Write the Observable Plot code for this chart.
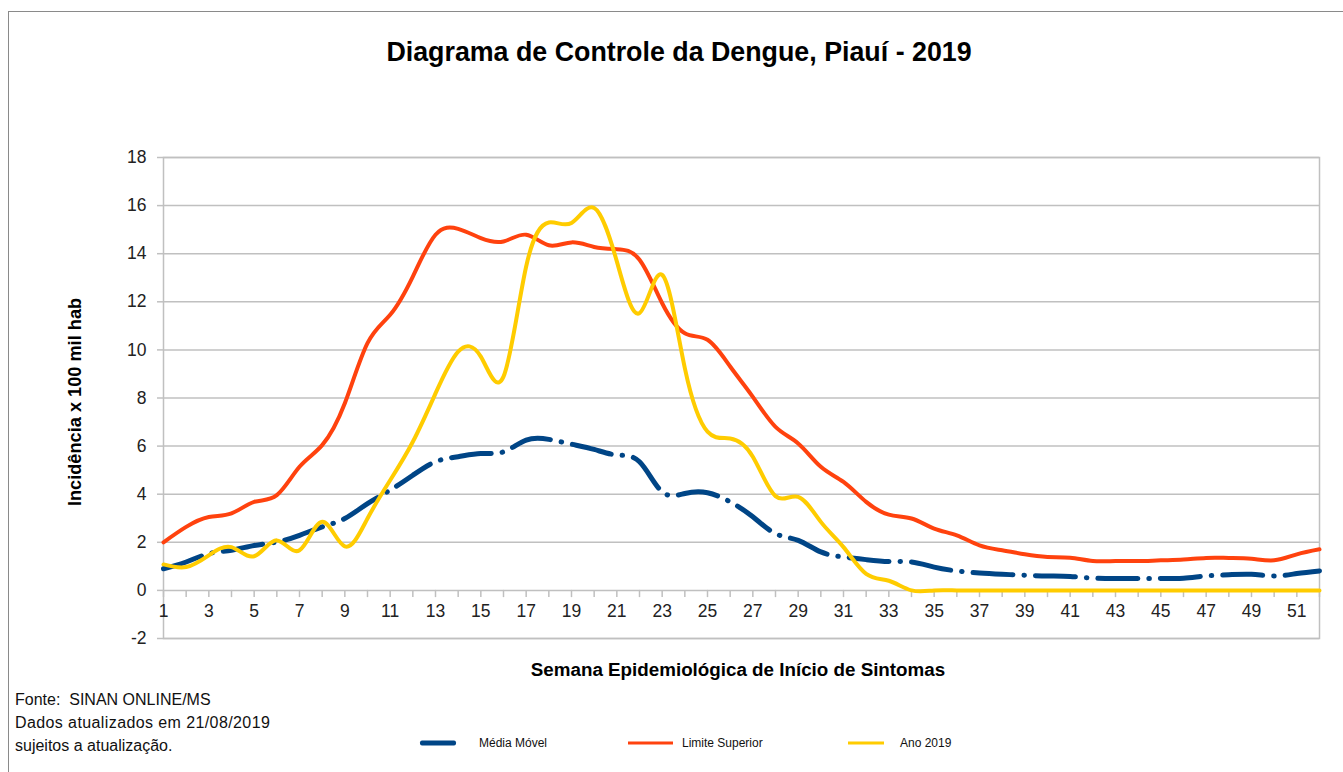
<!DOCTYPE html>
<html>
<head>
<meta charset="utf-8">
<script src="https://cdn.jsdelivr.net/npm/d3@7"></script>
<script src="https://cdn.jsdelivr.net/npm/@observablehq/plot@0.6"></script>
<style>
  html, body { margin: 0; padding: 0; background: #fff; }
  #wrap { position: relative; width: 1343px; height: 772px; overflow: hidden; font-family: "Liberation Sans", Arial, sans-serif; }
  #border { position: absolute; left: 8px; top: 11px; width: 1400px; height: 900px; border: 1px solid #8a8a8a; box-sizing: border-box; }
  #chart { position: absolute; left: 0; top: 0; }
  .t { position: absolute; line-height: 1; white-space: nowrap; color: #000; }
  #title { left: 679px; top: 52px; transform: translate(-50%, -50%); font-size: 26.8px; font-weight: bold; }
  #ylab { left: 75px; top: 402px; transform: translate(-50%, -50%) rotate(-90deg); font-size: 18.2px; font-weight: bold; }
  #xlab { left: 738px; top: 670px; transform: translate(-50%, -50%); font-size: 18.8px; font-weight: bold; }
  .foot { left: 15px; font-size: 16px; transform: translateY(-50%); color: #111; }
  .leg { font-size: 12px; transform: translateY(-50%); color: #111; }
  .sw { position: absolute; transform: translateY(-50%); }
</style>
</head>
<body>
<div id="wrap">
  <div id="border"></div>
  <div id="chart"></div>
  <div class="t" id="title">Diagrama de Controle da Dengue, Piauí - 2019</div>
  <div class="t" id="ylab">Incidência x 100 mil hab</div>
  <div class="t" id="xlab">Semana Epidemiológica de Início de Sintomas</div>
  <div class="t foot" style="top:700px">Fonte:&nbsp; SINAN ONLINE/MS</div>
  <div class="t foot" style="top:723px; letter-spacing:0.4px">Dados atualizados em 21/08/2019</div>
  <div class="t foot" style="top:746px">sujeitos a atualização.</div>
  <div class="sw" style="left:420px; top:743px; width:36px; height:5px; background:#004586; border-radius:2px;"></div>
  <div class="t leg" style="left:479px; top:743px">Média Móvel</div>
  <div class="sw" style="left:628px; top:743px; width:45px; height:3px; background:#ff420e;"></div>
  <div class="t leg" style="left:682px; top:743px">Limite Superior</div>
  <div class="sw" style="left:848px; top:743px; width:36px; height:3px; background:#ffcc00;"></div>
  <div class="t leg" style="left:900px; top:743px">Ano 2019</div>
</div>
<script>
const weeks = [1,2,3,4,5,6,7,8,9,10,11,12,13,14,15,16,17,18,19,20,21,22,23,24,25,26,27,28,29,30,31,32,33,34,35,36,37,38,39,40,41,42,43,44,45,46,47,48,49,50,51,52];
const xTickLabels = [1,3,5,7,9,11,13,15,17,19,21,23,25,27,29,31,33,35,37,39,41,43,45,47,49,51];
const yTicks = [-2,0,2,4,6,8,10,12,14,16,18];

const mediaMovel = [0.9,1.18,1.53,1.67,1.87,2.01,2.29,2.64,2.99,3.61,
  4.17,4.79,5.35,5.56,5.69,5.76,6.25,6.28,6.08,5.86,
  5.63,5.35,4.1,4.03,4.06,3.68,3.06,2.36,2.08,1.6,
  1.39,1.28,1.2,1.18,0.97,0.81,0.72,0.67,0.63,0.6,
  0.58,0.51,0.49,0.49,0.49,0.51,0.6,0.65,0.67,0.6,
  0.7,0.81];
const limiteSuperior = [2.0,2.64,3.05,3.2,3.68,3.96,5.14,6.04,7.78,10.28,
  11.46,13.05,14.79,15.03,14.65,14.51,14.79,14.35,14.47,14.28,
  14.19,13.75,11.94,10.69,10.42,9.31,8.05,6.8,6.11,5.14,
  4.51,3.68,3.15,2.99,2.57,2.29,1.87,1.67,1.5,1.39,
  1.36,1.22,1.22,1.22,1.25,1.28,1.35,1.35,1.32,1.25,
  1.5,1.71];
const ano2019 = [1.08,0.97,1.46,1.8,1.42,2.08,1.67,2.85,1.83,2.99,
  4.58,6.18,8.19,9.93,9.72,8.89,13.47,15.3,15.28,15.9,
  13.68,11.53,13.12,9.24,6.6,6.32,5.56,3.92,3.89,2.85,
  1.8,0.69,0.4,0,0,0,0,0,0,0,
  0,0,0,0,0,0,0,0,0,0,
  0,0];

const rows = weeks.map((w, i) => ({week: w, media: mediaMovel[i], limite: limiteSuperior[i], ano: ano2019[i]}));

const chart = Plot.plot({
  width: 1343,
  height: 772,
  marginTop: 157,
  marginBottom: 134,
  marginLeft: 163,
  marginRight: 24,
  style: {fontFamily: "'Liberation Sans', Arial, sans-serif", background: "transparent", overflow: "visible"},
  x: {domain: [1, 52], axis: null},
  y: {domain: [-2, 18], axis: null},
  marks: [
    Plot.gridY(yTicks, {stroke: "#c0c0c0", strokeOpacity: 1, strokeWidth: 1.5}),
    Plot.frame({stroke: "#c0c0c0", strokeWidth: 1.5}),
    Plot.axisY(yTicks, {tickSize: 6, tickPadding: 11, fontSize: 17.5, label: null, tickFormat: d => String(d), stroke: "#c0c0c0", strokeWidth: 1.5, fill: "#222"}),
    Plot.ruleX(weeks, {x: d => d, y1: 0, y2: -0.3, stroke: "#c0c0c0", strokeWidth: 1.5}),
    Plot.text(xTickLabels, {x: d => d, y: 0, dy: 21, text: d => String(d), fontSize: 17.5, fill: "#222"}),
    Plot.line(rows, {x: "week", y: "media", curve: "natural", stroke: "#004586", strokeWidth: 5, strokeDasharray: "40,11,0.5,11", strokeLinecap: "round"}),
    Plot.line(rows, {x: "week", y: "limite", curve: "natural", stroke: "#ff420e", strokeWidth: 4, strokeLinejoin: "round"}),
    Plot.line(rows, {x: "week", y: "ano", curve: "natural", stroke: "#ffcc00", strokeWidth: 4, strokeLinejoin: "round"})
  ]
});
document.getElementById("chart").appendChild(chart);
</script>
</body>
</html>
